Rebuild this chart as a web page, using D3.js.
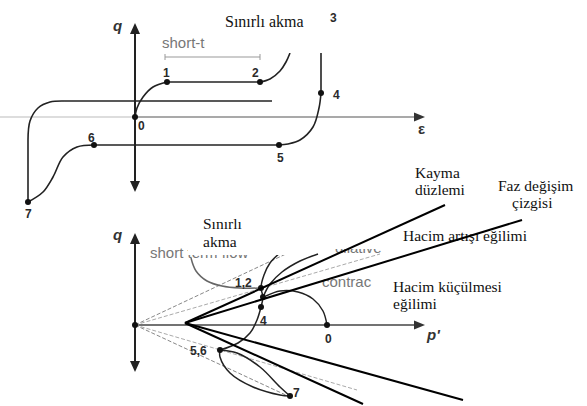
<!DOCTYPE html>
<html>
<head>
<meta charset="utf-8">
<script src="https://cdn.jsdelivr.net/npm/d3@7"></script>
<style>
  body { margin: 0; background: #fff; }
  svg { display: block; }
  .num { font-family: "Liberation Sans", Arial, sans-serif; font-weight: bold; font-size: 12px; fill: #2a2a2a; }
  .gray { font-family: "Liberation Sans", Arial, sans-serif; font-size: 15px; fill: #777; }
  .tr { font-family: "Liberation Serif", "Times New Roman", serif; font-size: 15.5px; fill: #111; }
  .ax { font-family: "Liberation Sans", Arial, sans-serif; font-style: italic; font-weight: bold; font-size: 15px; fill: #333; }
</style>
</head>
<body>
<svg id="chart" width="587" height="406"></svg>
<script>
// ---- top panel: q - strain (units) ----
const topAxisQ = [-7.5, 9.4];
const topAxisE = [-13.5, 29];
const topPoints = [
  { id: "0", e: 0, q: 0 },
  { id: "1", e: 3.2, q: 3.5 },
  { id: "2", e: 12.5, q: 3.5 },
  { id: "4", e: 18.6, q: 2.4 },
  { id: "5", e: 14.4, q: -2.8 },
  { id: "6", e: -4.1, q: -2.8 },
  { id: "7", e: -10.7, q: -8.5 }
];
const topPaths = [
  [[0, 0], [0.2, 0.9], [0.8, 2.0], [1.8, 3.0], [3.2, 3.5]],
  [[3.2, 3.5], [12.5, 3.5]],
  [[12.5, 3.5], [13.5, 3.8], [14.5, 4.6], [15.1, 5.5], [15.5, 6.4]],
  [[18.6, 6.4], [18.6, 2.4]],
  [[18.6, 2.4], [18.4, 0.9], [17.8, -1.0], [16.5, -2.3], [15.3, -2.7], [14.4, -2.8]],
  [[14.4, -2.8], [-4.1, -2.8]],
  [[-4.1, -2.8], [-5.8, -3.0], [-7.2, -4.0], [-8.2, -6.0], [-9.2, -7.5], [-10.7, -8.5]],
  [[-10.7, -8.5], [-10.7, -2.3]],
  [[-10.7, -2.3], [-10.5, -0.4], [-9.7, 0.9], [-8.5, 1.5], [-7.0, 1.6]],
  [[-7.0, 1.6], [13.7, 1.6]]
];
const topScaleBar = { e0: 3.0, e1: 12.5, q: 6.0 };
const topLabels = [
  { t: "1", e: 2.8, q: 4.0 }, { t: "2", e: 11.7, q: 4.0 }, { t: "0", e: 0.3, q: -1.3 },
  { t: "3", e: 19.5, q: 9.5 }, { t: "4", e: 19.8, q: 1.8 }, { t: "5", e: 14.2, q: -4.5 },
  { t: "6", e: -4.7, q: -2.5 }, { t: "7", e: -11.0, q: -10.1 }
];
const topCover = { e0: 7.0, e1: 19.1, q0: 6.4, q1: 11.7 };

// ---- bottom panel: q - p' ----
const botAxisQ = [-4.7, 9.2];
const botAxisP = [0, 29];
const botPoints = [
  { id: "o", p: 0, q: 0 },
  { id: "1,2", p: 12.6, q: 3.7 },
  { id: "m", p: 12.8, q: 2.8 },
  { id: "4", p: 12.6, q: 1.8 },
  { id: "0", p: 19.2, q: 0 },
  { id: "5,6", p: 8.5, q: -2.5 },
  { id: "7", p: 15.5, q: -7.1 }
];
const grayLines = [
  { end: [17.0, 8.0], c: "#888" },
  { end: [24.5, 7.1], c: "#aaa" },
  { end: [15.5, -7.2], c: "#888" },
  { end: [22.2, -6.5], c: "#aaa" }
];
const botPaths = [
  { c: "#666", pts: [[5.6, 6.7], [6.1, 5.4], [7.2, 4.4], [8.7, 3.9], [10.5, 3.7], [12.6, 3.7]] },
  { c: "#222", pts: [[14.6, 7.3], [13.5, 6.2], [12.9, 5.0], [12.6, 3.7], [12.8, 2.8], [12.6, 1.8], [12.2, 0.5], [11.5, -0.8], [10.3, -1.8], [8.5, -2.5]] },
  { c: "#222", pts: [[12.8, 2.8], [13.5, 4.1], [14.7, 5.3], [16.5, 6.4], [18.3, 7.1]] },
  { c: "#222", pts: [[19.2, 0], [18.8, 1.4], [17.8, 2.6], [16.3, 3.3], [14.5, 3.4], [13.1, 2.9]] },
  { c: "#222", pts: [[8.5, -2.5], [8.5, -3.2], [9.5, -4.8], [11.8, -6.2], [14.5, -7.0], [15.5, -7.1]] },
  { c: "#222", pts: [[8.5, -2.5], [10.2, -2.8], [12.5, -4.2], [14.5, -6.2], [15.5, -7.1]] }
];
const botCovers = [
  { p0: 5.3, p1: 16.5, q0: 7.0, q1: 12.0 },
  { p0: 16.5, p1: 26.5, q0: 7.6, q1: 12.0 }
];
const apex = [5.0, 0.2];
const blackEnds = [[31.0, 12.0], [38.7, 10.5], [32.8, -7.5], [22.8, -7.9]];
const botNums = [
  { t: "1,2", p: 10.0, q: 3.8 }, { t: "4", p: 12.5, q: 0 }, { t: "0", p: 19.0, q: -1.8 },
  { t: "5,6", p: 5.5, q: -3.0 }, { t: "7", p: 15.8, q: -7.2 }
];
const grayTexts = [
  { t: "short term flow", p: 1.5, q: 6.7 },
  { t: "dilative", p: 20.0, q: 7.2 },
  { t: "contrac", p: 18.7, q: 3.8 }
];
const trLabels = [
  { t: "Sınırlı", p: 6.8, q: 9.6 }, { t: "akma", p: 6.8, q: 7.8 },
  { t: "Kayma", p: 28.0, q: 14.7 }, { t: "düzlemi", p: 28.0, q: 13.0 },
  { t: "Faz değişim", p: 36.3, q: 13.4 }, { t: "çizgisi", p: 37.7, q: 11.7 },
  { t: "Hacim artışı eğilimi", p: 26.8, q: 8.4 },
  { t: "Hacim küçülmesi", p: 25.8, q: 3.3 }, { t: "eğilimi", p: 25.8, q: 1.6 }
];

const svg = d3.select("#chart");

// scales (10 px per unit in both panels)
const xT = d3.scaleLinear().domain([0, 29]).range([135, 425]);
const yT = d3.scaleLinear().domain([0, 9.4]).range([117, 23]);
const xB = d3.scaleLinear().domain([0, 29]).range([135, 425]);
const yB = d3.scaleLinear().domain([0, 9.2]).range([325, 233]);

const curve = d3.curveCatmullRom.alpha(0.5);
const lineT = d3.line().x((d) => xT(d[0])).y((d) => yT(d[1])).curve(curve);
const lineB = d3.line().x((d) => xB(d[0])).y((d) => yB(d[1])).curve(curve);

function arrowUp(g, x, y) {
  g.append("path").attr("d", `M${x},${y} L${x - 5},${y + 11} L${x + 5},${y + 11} Z`).attr("fill", "#222");
}
function arrowDown(g, x, y) {
  g.append("path").attr("d", `M${x},${y} L${x - 5},${y - 11} L${x + 5},${y - 11} Z`).attr("fill", "#222");
}
function arrowRight(g, x, y) {
  g.append("path").attr("d", `M${x},${y} L${x - 11},${y - 4.5} L${x - 11},${y + 4.5} Z`).attr("fill", "#333");
}

// ---------------- top panel ----------------
const topG = svg.append("g").attr("id", "top-panel");

// strain axis: faint to the left of the q axis, darker to the right
topG.append("line")
  .attr("x1", xT(topAxisE[0])).attr("x2", xT(0))
  .attr("y1", yT(0)).attr("y2", yT(0))
  .attr("stroke", "#bbb").attr("stroke-width", 1);
topG.append("line")
  .attr("x1", xT(0)).attr("x2", xT(topAxisE[1]) - 6)
  .attr("y1", yT(0)).attr("y2", yT(0))
  .attr("stroke", "#555").attr("stroke-width", 1.2);
arrowRight(topG, xT(topAxisE[1]), yT(0));

topG.append("line")
  .attr("x1", xT(0)).attr("x2", xT(0))
  .attr("y1", yT(topAxisQ[1]) + 6).attr("y2", yT(topAxisQ[0]) - 6)
  .attr("stroke", "#222").attr("stroke-width", 2);
arrowUp(topG, xT(0), yT(topAxisQ[1]));
arrowDown(topG, xT(0), yT(topAxisQ[0]));

// scale bar
topG.append("line")
  .attr("x1", xT(topScaleBar.e0)).attr("x2", xT(topScaleBar.e1))
  .attr("y1", yT(topScaleBar.q)).attr("y2", yT(topScaleBar.q))
  .attr("stroke", "#999").attr("stroke-width", 1);
[topScaleBar.e0, topScaleBar.e1].forEach((e) => {
  topG.append("line")
    .attr("x1", xT(e)).attr("x2", xT(e))
    .attr("y1", yT(topScaleBar.q) - 3).attr("y2", yT(topScaleBar.q) + 3)
    .attr("stroke", "#999").attr("stroke-width", 1);
});
topG.append("text").attr("class", "gray").attr("x", xT(2.7)).attr("y", yT(6.9)).text("short-term flow");

topG.selectAll("path.crv")
  .data(topPaths)
  .enter()
  .append("path")
  .attr("class", "crv")
  .attr("d", lineT)
  .attr("fill", "none")
  .attr("stroke", "#222")
  .attr("stroke-width", 1.6);

topG.selectAll("circle")
  .data(topPoints)
  .enter()
  .append("circle")
  .attr("cx", (d) => xT(d.e))
  .attr("cy", (d) => yT(d.q))
  .attr("r", 3)
  .attr("fill", "#111");

// white label box hiding the top of the curve
topG.append("rect")
  .attr("x", xT(topCover.e0)).attr("y", yT(topCover.q1))
  .attr("width", xT(topCover.e1) - xT(topCover.e0))
  .attr("height", yT(topCover.q0) - yT(topCover.q1))
  .attr("fill", "#fff");
topG.append("text").attr("class", "tr").style("font-size", "16px").attr("x", xT(9.0)).attr("y", yT(9.0)).text("Sınırlı akma");

topG.selectAll("text.num")
  .data(topLabels)
  .enter()
  .append("text")
  .attr("class", "num")
  .attr("x", (d) => xT(d.e))
  .attr("y", (d) => yT(d.q))
  .text((d) => d.t);
topG.append("text").attr("class", "ax").attr("x", xT(-2.2)).attr("y", yT(8.6)).text("q");
topG.append("text").attr("class", "ax").style("font-style", "normal").attr("x", xT(28.3)).attr("y", yT(-1.7)).text("ε");

// ---------------- bottom panel ----------------
const botG = svg.append("g").attr("id", "bottom-panel");

botG.append("line")
  .attr("x1", xB(0)).attr("x2", xB(botAxisP[1]) - 6)
  .attr("y1", yB(0)).attr("y2", yB(0))
  .attr("stroke", "#444").attr("stroke-width", 1.6);
arrowRight(botG, xB(botAxisP[1]), yB(0));

botG.append("line")
  .attr("x1", xB(0)).attr("x2", xB(0))
  .attr("y1", yB(botAxisQ[1]) + 6).attr("y2", yB(botAxisQ[0]) - 6)
  .attr("stroke", "#222").attr("stroke-width", 2);
arrowUp(botG, xB(0), yB(botAxisQ[1]));
arrowDown(botG, xB(0), yB(botAxisQ[0]));

botG.selectAll("line.gl")
  .data(grayLines)
  .enter()
  .append("line")
  .attr("class", "gl")
  .attr("x1", xB(0)).attr("y1", yB(0))
  .attr("x2", (d) => xB(d.end[0]))
  .attr("y2", (d) => yB(d.end[1]))
  .attr("stroke", (d) => d.c)
  .attr("stroke-width", 1)
  .attr("stroke-dasharray", "4,2");

grayTexts.forEach((d) => {
  botG.append("text").attr("class", "gray").attr("x", xB(d.p)).attr("y", yB(d.q)).text(d.t);
});

botG.selectAll("path.crv")
  .data(botPaths)
  .enter()
  .append("path")
  .attr("class", "crv")
  .attr("d", (d) => lineB(d.pts))
  .attr("fill", "none")
  .attr("stroke", (d) => d.c)
  .attr("stroke-width", 1.5);

botG.selectAll("circle")
  .data(botPoints)
  .enter()
  .append("circle")
  .attr("cx", (d) => xB(d.p))
  .attr("cy", (d) => yB(d.q))
  .attr("r", 3)
  .attr("fill", "#111");

botG.selectAll("rect")
  .data(botCovers)
  .enter()
  .append("rect")
  .attr("x", (d) => xB(d.p0))
  .attr("y", (d) => yB(d.q1))
  .attr("width", (d) => xB(d.p1) - xB(d.p0))
  .attr("height", (d) => yB(d.q0) - yB(d.q1))
  .attr("fill", "#fff");

botG.selectAll("text.num")
  .data(botNums)
  .enter()
  .append("text")
  .attr("class", "num")
  .attr("x", (d) => xB(d.p))
  .attr("y", (d) => yB(d.q))
  .text((d) => d.t);

botG.selectAll("text.tr")
  .data(trLabels)
  .enter()
  .append("text")
  .attr("class", "tr")
  .attr("x", (d) => xB(d.p))
  .attr("y", (d) => yB(d.q))
  .text((d) => d.t);

// thick overlay lines from the common apex
botG.selectAll("line.bk")
  .data(blackEnds)
  .enter()
  .append("line")
  .attr("class", "bk")
  .attr("x1", xB(apex[0])).attr("y1", yB(apex[1]))
  .attr("x2", (d) => xB(d[0]))
  .attr("y2", (d) => yB(d[1]))
  .attr("stroke", "#000")
  .attr("stroke-width", 2);

botG.append("text").attr("class", "ax").attr("x", xB(-2.2)).attr("y", yB(8.5)).text("q");
botG.append("text").attr("class", "ax").attr("x", xB(29.2)).attr("y", yB(-1.5)).text("p'");
</script>
</body>
</html>
